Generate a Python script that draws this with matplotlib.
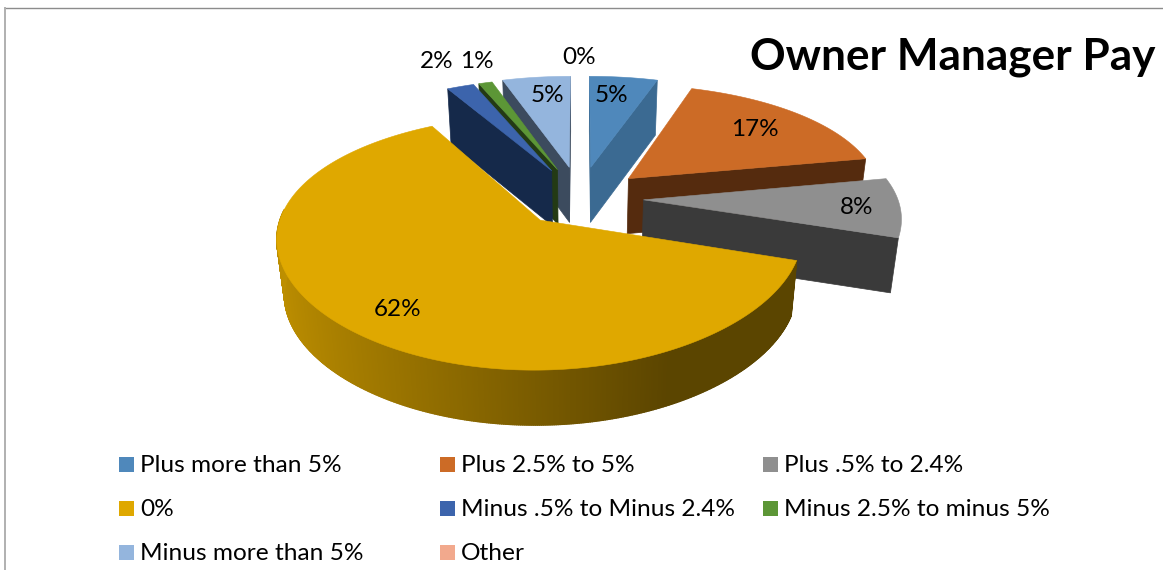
import numpy as np
import matplotlib
matplotlib.use("Agg")
import matplotlib.pyplot as plt
from matplotlib.patches import Polygon, Rectangle
from matplotlib.collections import PolyCollection
from matplotlib.colors import to_rgb

# --- data ---
categories = ["Plus more than 5%", "Plus 2.5% to 5%", "Plus .5% to 2.4%", "0%",
              "Minus .5% to Minus 2.4%", "Minus 2.5% to minus 5%",
              "Minus more than 5%", "Other"]
values = [5, 17, 8, 62, 2, 1, 5, 0]
pct_labels = ["5%", "17%", "8%", "62%", "2%", "1%", "5%", "0%"]
title = "Owner Manager Pay"

# --- style ---
top_colors = ["#4F88BB", "#CC6B26", "#8F8F8F", "#DFA800", "#3C64AC", "#5C9636", "#94B5DD", "#F2A98D"]
wall_colors = ["#3B6A92", "#552B0E", "#3A3A3A", "#5C4400", "#15294A", "#233A14", "#3C4B5E", "#F2A98D"]
label_pos = [(611, 96), (755, 129), (857, 207), (398, 309), (437, 61), (477, 61), (547, 96), (579, 58)]
explode = [0.28, 0.26, 0.25, 0.24, 0.27, 0.27, 0.28, 0.0]
draw_order = [7, 6, 5, 4, 0, 1, 2, 3]
OX, OY = 580, 198       # projected pie centre
F, G = 254, 116         # horizontal/vertical scale
KX, KY = 0.13, 0.17     # perspective terms
DEPTH = 55
TAPER = 0.975
VIS_START, VIS_END = 108, 275


def project(X, Y):
    Y = np.asarray(Y)
    return OX + F * np.asarray(X) / (1 + KX * Y), OY - G * Y / (1 + KY * Y)


def drop(px, py):
    return OX + (px - OX) * TAPER, py + DEPTH


fig = plt.figure(figsize=(11.63, 5.70), dpi=100)
ax = fig.add_axes([0, 0, 1, 1])
ax.set_xlim(0, 1163)
ax.set_ylim(570, 0)
ax.axis("off")

# frame fragments
ax.plot([5, 1163], [8, 8], color="#8C8C8C", lw=1.0)
ax.plot([5, 5], [8, 570], color="#B0B0B0", lw=1.4)

fractions = np.array(values, dtype=float) / sum(values)
edges = np.concatenate([[0], np.cumsum(fractions) * 360])

for idx in draw_order:
    a0, a1 = edges[idx], edges[idx + 1]
    if a1 - a0 <= 0:
        continue
    mid = np.radians((a0 + a1) / 2)
    ex, ey = explode[idx] * np.sin(mid), explode[idx] * np.cos(mid)
    angs = np.linspace(a0, a1, 600)
    rad = np.radians(angs)
    rx, ry = project(ex + np.sin(rad), ey + np.cos(rad))
    ax0, ay0 = project(ex, ey)
    mx, my = rx[len(rx) // 2], ry[len(ry) // 2]

    # radial cut faces that look toward the viewer
    for ex_i in (0, -1):
        ex_x, ex_y = rx[ex_i], ry[ex_i]
        dx, dy = ex_x - ax0, ex_y - ay0
        side_mid = dx * (my - ay0) - dy * (mx - ax0)
        side_down = dx * DEPTH
        if side_mid * side_down < 0:
            bx0, by0 = drop(ax0, ay0)
            bx1, by1 = drop(ex_x, ex_y)
            ax.add_patch(Polygon([(ax0, ay0), (ex_x, ex_y), (bx1, by1), (bx0, by0)],
                                 closed=True, fc=wall_colors[idx], ec=wall_colors[idx], lw=0.5))

    # outer rim wall with a left-to-right shading
    mask = (angs >= VIS_START) & (angs <= VIS_END)
    if mask.sum() > 1:
        vx, vy = rx[mask], ry[mask]
        bx, by = drop(vx, vy)
        quads, cols = [], []
        base = np.array(to_rgb(top_colors[idx]))
        for j in range(len(vx) - 1):
            quads.append([(vx[j], vy[j]), (vx[j + 1], vy[j + 1]), (bx[j + 1], by[j + 1]), (bx[j], by[j])])
            sx = np.sin(np.radians(angs[mask][j]))
            cols.append(base * np.interp(sx, [-1.0, 0.45], [0.85, 0.41]))
        ax.add_collection(PolyCollection(quads, facecolors=cols, edgecolors=cols, linewidths=1.0))

    # top surface
    ax.add_patch(Polygon(np.column_stack([np.r_[ax0, rx], np.r_[ay0, ry]]), closed=True,
                         fc=top_colors[idx], ec=top_colors[idx], lw=0.4))

for txt, (lx, ly) in zip(pct_labels, label_pos):
    ax.text(lx, ly, txt, ha="center", va="center", fontsize=17.5, family="Lato", color="black")

ax.text(1155, 57, title, ha="right", va="center", fontsize=31.8, fontweight="bold",
        family="Lato", color="black")

# legend (three columns, row by row)
col_x = [119, 440, 763]
row_y = [464, 508, 552]
for i, (name, col) in enumerate(zip(categories, top_colors)):
    x, y = col_x[i % 3], row_y[i // 3]
    ax.add_patch(Rectangle((x, y - 7.5), 15, 15, fc=col, ec="none"))
    ax.text(x + 21, y + 1, name, ha="left", va="center", fontsize=17.6, family="Lato", color="black")

fig.savefig("out.png", dpi=100)
